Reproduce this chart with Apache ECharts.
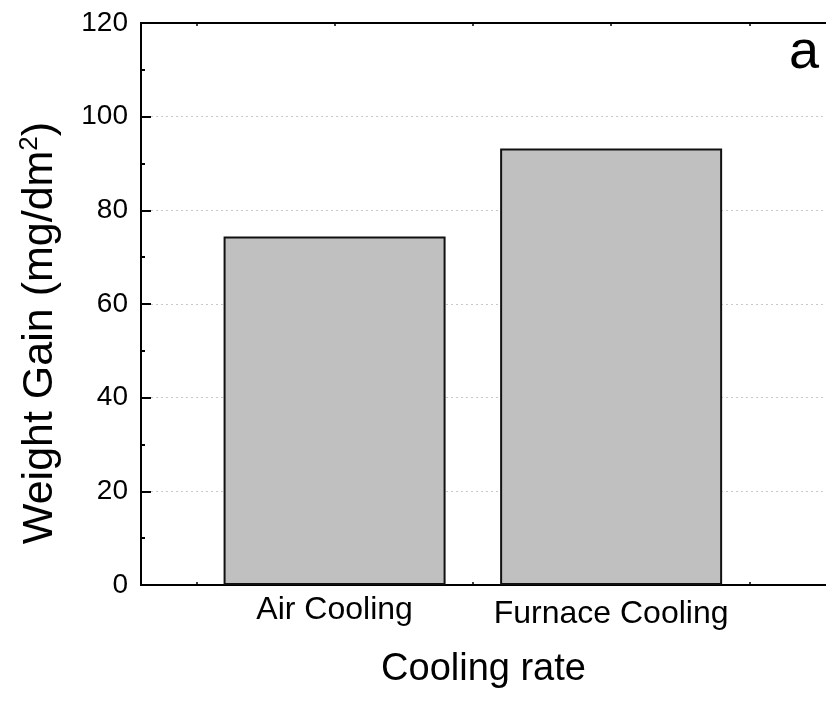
<!DOCTYPE html>
<html>
<head>
<meta charset="utf-8">
<script src="https://cdn.jsdelivr.net/npm/echarts@6/dist/echarts.min.js"></script>
<style>
html,body{margin:0;padding:0;background:#fff;}
#c{width:826px;height:708px;}
</style>
</head>
<body>
<div id="c"></div>
<script>
const categories = ['Air Cooling', 'Furnace Cooling'];
const weightGain = [74.4, 93.2];
const yTicks = [0, 20, 40, 60, 80, 100, 120];
const xTickValues = [0.5, 1, 1.5, 2, 2.5];

const FONT = "'Liberation Sans', Arial, sans-serif";
const chart = echarts.init(document.getElementById('c'), null, {renderer: 'canvas'});

const barData = categories.map((c, i) => [i + 1, weightGain[i]]);

chart.setOption({
  backgroundColor: '#fff',
  animation: false,
  grid: {left: 141, right: 0, top: 23, bottom: 123, containLabel: false},
  xAxis: [{
    type: 'value',
    min: 0.3, max: 2.777,
    position: 'bottom',
    name: 'Cooling rate',
    nameLocation: 'middle',
    nameGap: 66,
    nameTextStyle: {fontFamily: FONT, fontSize: 38, color: '#000'},
    axisLine: {show: true, onZero: false, lineStyle: {color: '#000', width: 2}},
    axisTick: {show: true, inside: true, length: 3, customValues: xTickValues, lineStyle: {color: '#000', width: 1.5}},
    axisLabel: {
      customValues: [1, 2],
      margin: 9,
      formatter: function (v) {
        const i = Math.round(v) - 1;
        if (i === 0) return '{a|' + categories[0] + '}';
        if (i === 1) return '{b|' + categories[1] + '}';
        return '';
      },
      rich: {
        a: {fontFamily: FONT, fontSize: 32, color: '#000'},
        b: {fontFamily: FONT, fontSize: 32, color: '#000', padding: [4, 0, 0, 0]}
      }
    },
    splitLine: {show: false}
  }, {
    type: 'value',
    min: 0.3, max: 2.777,
    position: 'top',
    axisLine: {show: true, onZero: false, lineStyle: {color: '#000', width: 2}},
    axisTick: {show: true, inside: true, length: 3, customValues: xTickValues, lineStyle: {color: '#000', width: 1.5}},
    axisLabel: {show: false},
    splitLine: {show: false}
  }],
  yAxis: {
    type: 'value',
    min: yTicks[0], max: yTicks[yTicks.length - 1], interval: 20,
    axisLine: {show: true, onZero: false, lineStyle: {color: '#000', width: 2}},
    axisTick: {show: true, inside: true, length: 10, lineStyle: {color: '#000', width: 2}},
    minorTick: {show: true, splitNumber: 2, length: 4, lineStyle: {color: '#000', width: 2}},
    axisLabel: {fontFamily: FONT, fontSize: 28, color: '#000', margin: 13},
    splitLine: {show: true, lineStyle: {color: '#c8c8c8', width: 1, type: [2, 3]}}
  },
  series: [{
    type: 'bar',
    data: barData,
    barWidth: 222,
    itemStyle: {color: '#c0c0c0', borderColor: '#111', borderWidth: 2},
    z: 3
  }],
  graphic: [{
    type: 'text',
    x: 40, y: 333,
    rotation: Math.PI / 2,
    style: {
      text: '{n|Weight Gain (mg/dm}{s|2}{n|)}',
      align: 'center', verticalAlign: 'middle',
      rich: {
        n: {fontFamily: FONT, fontSize: 43, fill: '#000'},
        s: {fontFamily: FONT, fontSize: 26, fill: '#000', verticalAlign: 'top', padding: [0, 0, 20, 0]}
      }
    }
  }, {
    type: 'text',
    x: 804, y: 53,
    style: {text: 'a', fontFamily: FONT, fontSize: 54, fill: '#000', align: 'center', verticalAlign: 'middle'}
  }]
});
</script>
</body>
</html>
